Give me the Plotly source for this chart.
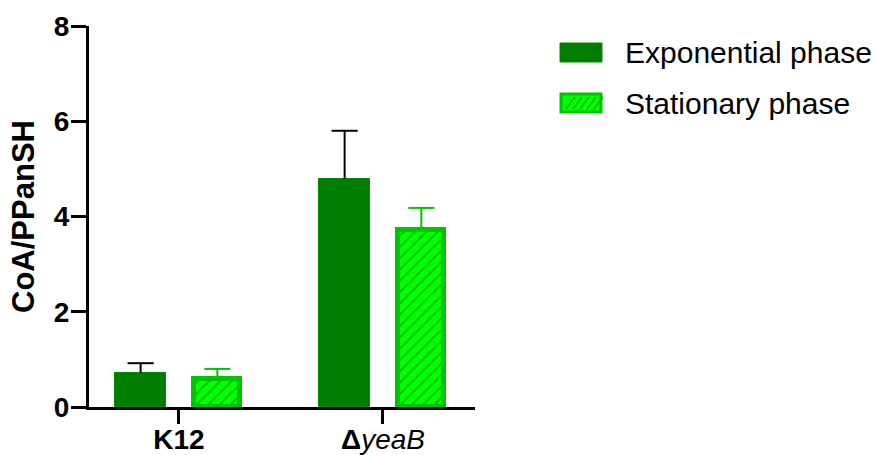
import plotly.graph_objects as go

# ---- data ----
groups = ["K12", "ΔyeaB"]
group_labels = ["<b>K12</b>", "<b>Δ</b><i>yeaB</i>"]
series_names = ["Exponential phase", "Stationary phase"]
exp_mean = [0.71, 4.79]
exp_err = [0.21, 1.01]
stat_mean = [0.58, 3.71]
stat_err = [0.22, 0.47]
y_ticks = [0, 2, 4, 6, 8]

# ---- styling ----
FONT = "Liberation Sans, Arial, sans-serif"
EXP_COLOR = "#007d00"
STAT_FILL = "#00ff00"
STAT_LINE = "#00c400"
OFFSET = 0.188
CAP = 0.064

xs = list(range(len(groups)))
x_exp = [x - OFFSET for x in xs]
x_stat = [x + OFFSET for x in xs]

fig = go.Figure()
fig.add_trace(go.Bar(
    x=x_exp, y=exp_mean, width=0.25, name=series_names[0],
    marker=dict(color=EXP_COLOR, line=dict(color="#008a00", width=1)),
    showlegend=False,
))
fig.add_trace(go.Bar(
    x=x_stat, y=stat_mean, width=0.225, name=series_names[1],
    marker=dict(color=STAT_FILL, line=dict(color=STAT_LINE, width=5),
                pattern=dict(shape="/", fgcolor="#00b400", bgcolor=STAT_FILL,
                             size=8, solidity=0.2, fillmode="replace")),
    showlegend=False,
))


def err_path(xpos, means, errs):
    ex, ey = [], []
    for x, m, e in zip(xpos, means, errs):
        ex += [x, x, None, x - CAP, x + CAP, None]
        ey += [m, m + e, None, m + e, m + e, None]
    return ex, ey


ex, ey = err_path(x_exp, exp_mean, exp_err)
fig.add_trace(go.Scatter(x=ex, y=ey, mode="lines", line=dict(color="black", width=2),
                         showlegend=False, hoverinfo="skip"))
ex, ey = err_path(x_stat, stat_mean, stat_err)
fig.add_trace(go.Scatter(x=ex, y=ey, mode="lines", line=dict(color=STAT_LINE, width=2),
                         showlegend=False, hoverinfo="skip"))

# ---- custom legend (paper coords of the plot area) ----
L, R, T, B = 89, 475, 26, 407
W, H = 880, 455


def px(xp):
    return (xp - L) / (R - L)


def py(yp):
    return (B - yp) / (B - T)


shapes = []
shapes.append(dict(type="rect", xref="paper", yref="paper",
                   x0=px(560), x1=px(602), y0=py(62), y1=py(43),
                   fillcolor=EXP_COLOR, line=dict(color="#008a00", width=1)))
shapes.append(dict(type="rect", xref="paper", yref="paper",
                   x0=px(561), x1=px(601), y0=py(112), y1=py(94),
                   fillcolor=STAT_FILL, line=dict(color=STAT_LINE, width=3)))
for k in range(5):
    xa = 566 + k * 7
    shapes.append(dict(type="line", xref="paper", yref="paper",
                       x0=px(xa), y0=py(109), x1=px(xa + 9), y1=py(97),
                       line=dict(color="#00b400", width=1.5)))

annotations = [
    dict(text=series_names[0], xref="paper", yref="paper", x=px(623), y=py(53),
         xanchor="left", yanchor="middle", showarrow=False,
         font=dict(family=FONT, size=30, color="black")),
    dict(text=series_names[1], xref="paper", yref="paper", x=px(623), y=py(104),
         xanchor="left", yanchor="middle", showarrow=False,
         font=dict(family=FONT, size=30, color="black")),
]

fig.update_layout(
    width=W, height=H,
    margin=dict(l=L, r=W - R, t=T, b=H - B, pad=0, autoexpand=False),
    paper_bgcolor="white", plot_bgcolor="white",
    showlegend=False,
    bargap=0,
    shapes=shapes,
    annotations=annotations,
    font=dict(family=FONT, color="black"),
)
fig.update_xaxes(
    range=[-0.441, 1.451], tickmode="array", tickvals=xs, ticktext=group_labels,
    showgrid=False, zeroline=False, showline=True, linecolor="black", linewidth=3,
    ticks="outside", ticklen=14, tickwidth=3, tickcolor="black", automargin=False,
    ticklabelstandoff=-9,
    tickfont=dict(family=FONT, size=28, color="black"),
)
fig.update_yaxes(
    range=[0, 8], tickmode="array", tickvals=y_ticks,
    ticktext=[f"<b>{v}</b>" for v in y_ticks],
    showgrid=False, zeroline=False, showline=True, linecolor="black", linewidth=3,
    ticks="outside", ticklen=15, tickwidth=3, tickcolor="black", automargin=False,
    ticklabelstandoff=-4,
    tickfont=dict(family=FONT, size=28, color="black"),
    title=dict(text="<b>CoA/PPanSH</b>", font=dict(family=FONT, size=31, color="black"),
               standoff=10),
)

fig.write_html("out.html", config={"displayModeBar": False},
               post_script="document.body.style.margin='0';document.body.style.overflow='hidden';")
